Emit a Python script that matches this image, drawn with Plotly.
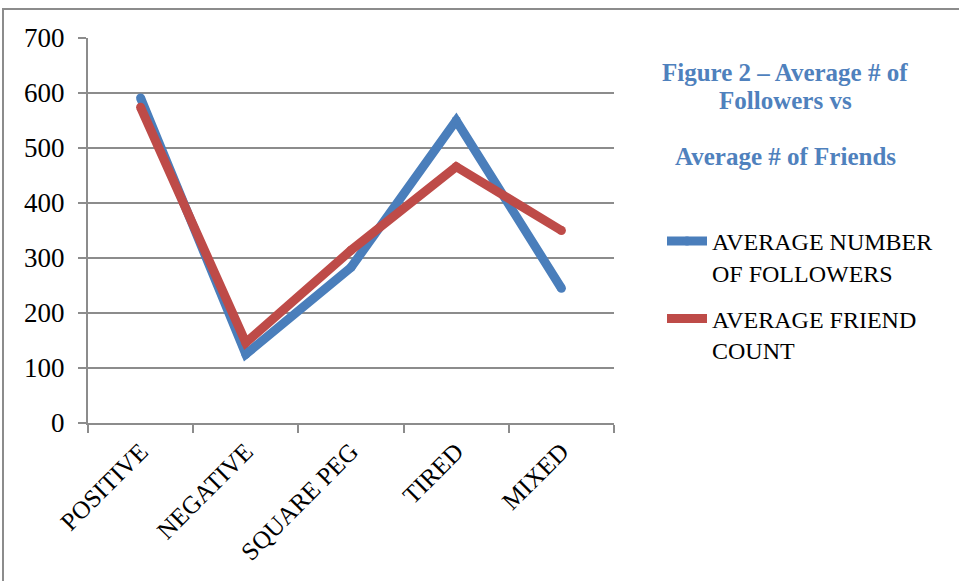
import plotly.graph_objects as go

# Categories and the two series
categories = ["POSITIVE", "NEGATIVE", "SQUARE PEG", "TIRED", "MIXED"]
avg_followers = [591, 125, 283, 550, 245]
avg_friends = [574, 146, 314, 466, 350]
y_ticks = [0, 100, 200, 300, 400, 500, 600, 700]

W, H = 959, 581
L, R, T, B = 88, 345, 38, 158
PW, PH = W - L - R, H - T - B

BLUE = "#4A7EBB"
RED = "#BE4B48"
GRID = "#8C8C8C"
SERIF = "Liberation Serif, Times New Roman, serif"
LW = 9


def px_x(px):
    return (px - L) / PW


def px_y(py):
    return 1 - (py - T) / PH


fig = go.Figure()
# Round markers at the vertices give the thick lines rounded joins and ends
fig.add_trace(go.Scatter(
    x=categories, y=avg_followers, mode="lines+markers",
    name="AVERAGE NUMBER<br>OF FOLLOWERS", legendgroup="a",
    line=dict(color=BLUE, width=LW),
    marker=dict(color=BLUE, size=LW, line=dict(width=0)),
))
fig.add_trace(go.Scatter(
    x=categories, y=avg_friends, mode="lines+markers",
    name="AVERAGE FRIEND<br>COUNT", legendgroup="b",
    line=dict(color=RED, width=LW),
    marker=dict(color=RED, size=LW, line=dict(width=0)),
))

# Outer chart frame (only top and left edges fall inside the page)
fig.add_shape(type="rect", xref="paper", yref="paper",
              x0=px_x(3), x1=px_x(990), y0=px_y(9), y1=px_y(620),
              line=dict(color=GRID, width=2), layer="below")

# Title block
title_lines = [("Figure 2 – Average # of", 72), ("Followers vs", 100),
               ("Average # of Friends", 156)]
for text, yc in title_lines:
    fig.add_annotation(text=f"<b>{text}</b>", xref="paper", yref="paper",
                       x=px_x(785), y=px_y(yc), xanchor="center", yanchor="middle",
                       showarrow=False,
                       font=dict(family=SERIF, size=25, color="#4F81BD"))

fig.update_layout(
    width=W, height=H,
    margin=dict(l=L, r=R, t=T, b=B),
    paper_bgcolor="white", plot_bgcolor="white",
    font=dict(family=SERIF, size=24, color="black"),
    showlegend=True,
    legend=dict(x=px_x(662), y=px_y(219), xanchor="left", yanchor="top",
                font=dict(family=SERIF, size=24, color="black"),
                valign="top", traceorder="grouped", tracegroupgap=12,
                itemwidth=40, bgcolor="rgba(0,0,0,0)"),
)

fig.update_xaxes(
    type="category", range=[-0.5, 4.5],
    showline=True, linecolor=GRID, linewidth=2,
    ticks="outside", ticklen=8, tickcolor=GRID, tickwidth=2,
    tickmode="array", tickvals=[-0.5, 0.5, 1.5, 2.5, 3.5, 4.5],
    ticktext=[""] * 6,
    showgrid=False, zeroline=False,
)
# Category labels placed on a second, overlaying axis so ticks sit between categories
fig.update_layout(xaxis2=dict(
    overlaying="x", side="bottom", type="category", range=[-0.5, 4.5],
    showline=False, ticks="", showgrid=False, zeroline=False,
    tickangle=-45, tickfont=dict(family=SERIF, size=25, color="black"),
    ticklabelstandoff=8,
))
fig.add_trace(go.Scatter(x=categories, y=[None] * 5, xaxis="x2",
                         showlegend=False, hoverinfo="skip"))

fig.update_yaxes(
    range=[0, 700], tickvals=y_ticks,
    showline=True, linecolor=GRID, linewidth=2,
    ticks="outside", ticklen=8, tickcolor=GRID, tickwidth=2,
    showgrid=True, gridcolor=GRID, gridwidth=2,
    zeroline=False, tickfont=dict(family=SERIF, size=27, color="black"),
    ticklabelstandoff=8,
)

fig.write_html("out.html")
